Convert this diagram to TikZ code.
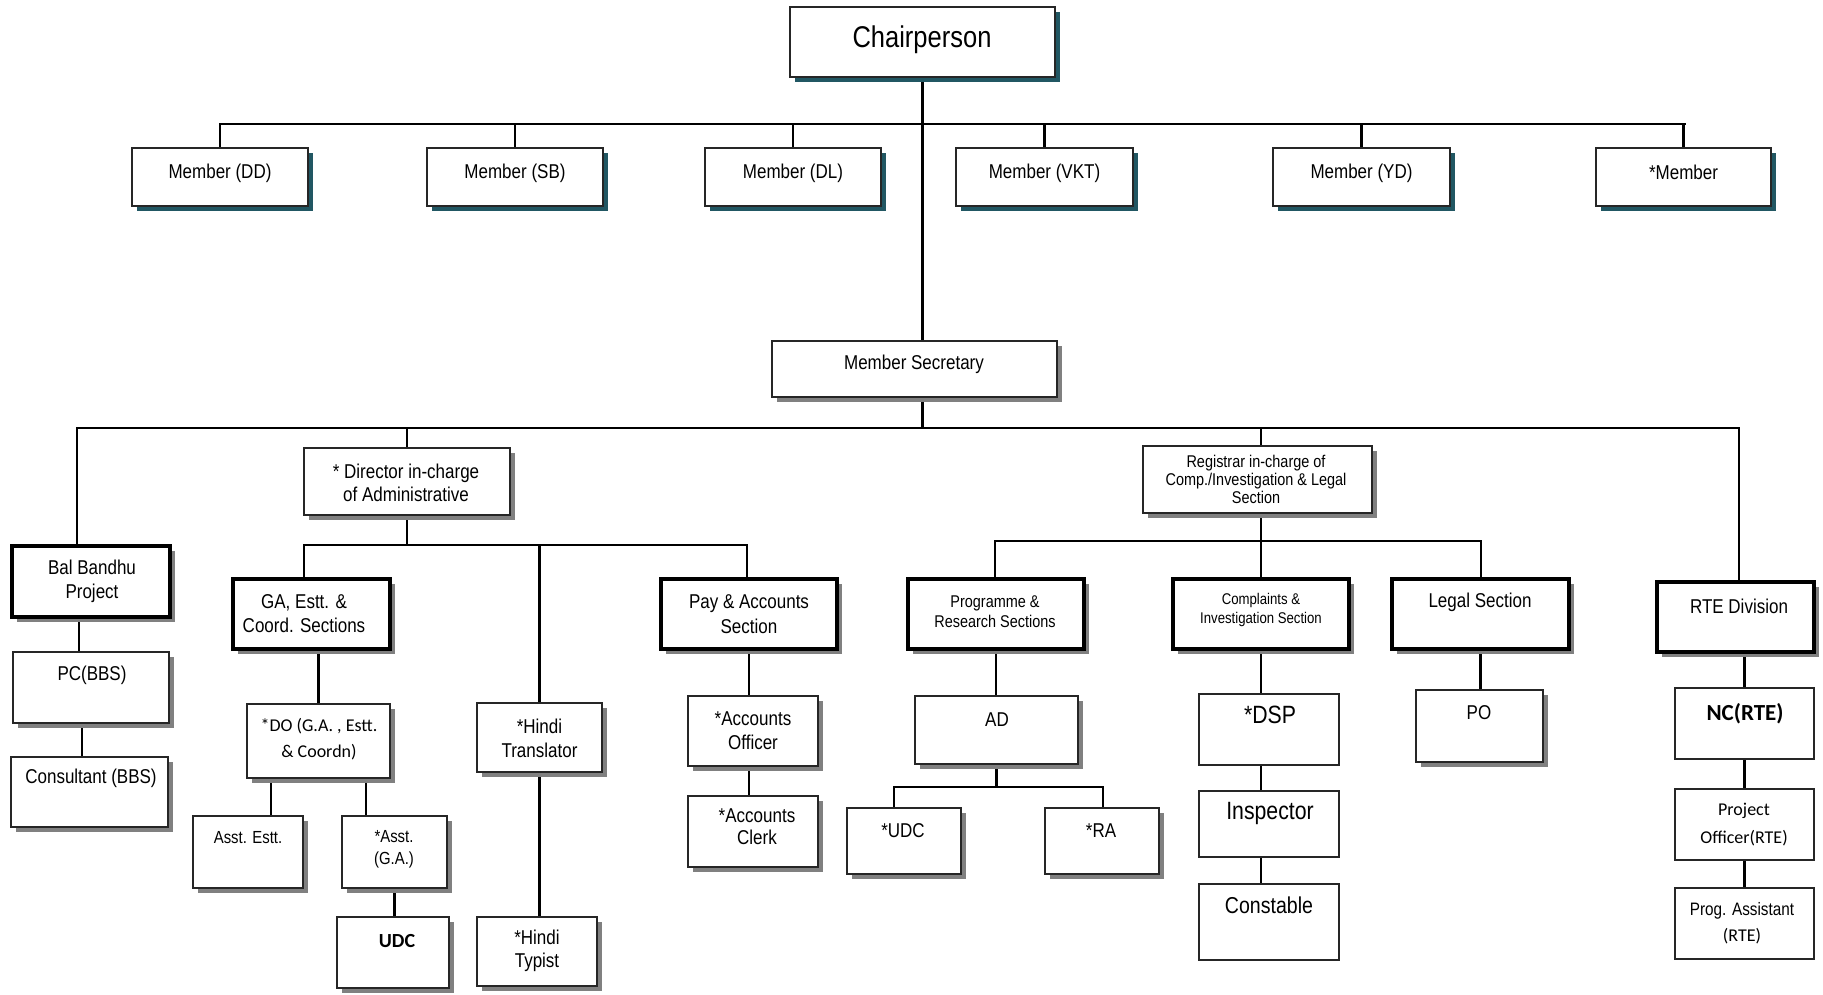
\documentclass[tikz,border=0pt]{standalone}
\usepackage{fontspec}
\setmainfont{Liberation Sans}[FakeStretch=0.85]
\newfontfamily\calfont{Carlito}
\usetikzlibrary{shadows}
\pgfdeclarelayer{bg}
\pgfsetlayers{bg,main}
\newcommand\ftsz[2]{\fontsize{#1}{#2}\selectfont}
\definecolor{tealshadow}{RGB}{33,87,99}
\tikzset{
    box/.style={rectangle, draw=black!85, line width=1.2pt, fill=white, inner sep=0pt},
    thickbox/.style={box, draw=black, line width=3.2pt},
    gshadow/.style={drop shadow={shadow xshift=5pt, shadow yshift=-5pt, fill=gray, opacity=1}},
    tshadow/.style={drop shadow={shadow xshift=5pt, shadow yshift=-5pt, fill=tealshadow, opacity=1}},
    txt/.style={align=center, inner sep=0pt},
    link/.style={line width=2.8pt, line cap=rect}
}

\begin{document}
\begin{tikzpicture}[x=1pt, y=-1pt]
        \useasboundingbox (0,0) rectangle (1823,994);
        % top level
        \node (chair) [box, tshadow, minimum width=265, minimum height=70] at (922.5,42) {};
        \node (chair-t) [txt, font=\ftsz{30}{36}] at (922,40) {Chairperson};
        \node (dd) [box, tshadow, minimum width=176, minimum height=58] at (220,177) {};
        \node (sb) [box, tshadow, minimum width=176, minimum height=58] at (515,177) {};
        \node (dl) [box, tshadow, minimum width=176, minimum height=58] at (793,177) {};
        \node (vkt) [box, tshadow, minimum width=177, minimum height=58] at (1044.5,177) {};
        \node (yd) [box, tshadow, minimum width=177, minimum height=58] at (1361.5,177) {};
        \node (mem) [box, tshadow, minimum width=175, minimum height=58] at (1683.5,177) {};
        \node (dd-t) [txt, font=\ftsz{20}{24}] at (220,173) {Member (DD)};
        \node (sb-t) [txt, font=\ftsz{20}{24}] at (515,173) {Member (SB)};
        \node (dl-t) [txt, font=\ftsz{20}{24}] at (793,173) {Member (DL)};
        \node (vkt-t) [txt, font=\ftsz{20}{24}] at (1044.5,173) {Member (VKT)};
        \node (yd-t) [txt, font=\ftsz{20}{24}] at (1361.5,173) {Member (YD)};
        \node (mem-t) [txt, font=\ftsz{20}{24}] at (1683.5,172) {*Member};
        \node (msec) [box, gshadow, minimum width=285, minimum height=56] at (914.5,369) {};
        \node (msec-t) [txt, font=\ftsz{20}{24}] at (914,364) {Member Secretary};
        % second level
        \node (dir) [box, gshadow, minimum width=206, minimum height=67] at (407,481.5) {};
        \node (dir-t) [txt, font=\ftsz{20}{23}] at (406,483) {* Director in-charge\\of Administrative};
        \node (reg) [box, gshadow, minimum width=229, minimum height=67] at (1257.5,479.5) {};
        \node (reg-t) [txt, font=\ftsz{17}{18}] at (1256,479) {Registrar in-charge of\\Comp./Investigation \& Legal\\Section};
        % Bal Bandhu
        \node (bbp) [thickbox, gshadow, minimum width=158, minimum height=71] at (91,581.5) {};
        \node (bbp-t) [txt, font=\ftsz{20}{24}] at (92,581) {Bal Bandhu\\Project};
        \node (pc) [box, gshadow, minimum width=156, minimum height=71] at (91,687.5) {};
        \node (pc-t) [txt, font=\ftsz{20}{24}] at (92,675) {PC(BBS)};
        \node (cons) [box, gshadow, minimum width=157, minimum height=70] at (89.5,792) {};
        \node (cons-t) [txt, font=\ftsz{20}{24}] at (91,778) {Consultant (BBS)};
        % administration
        \node (ga) [thickbox, gshadow, minimum width=157, minimum height=70] at (311.5,614) {};
        \node (ga-t) [txt, font=\ftsz{20}{24}] at (304,614) {GA, Estt. \&\\Coord. Sections};
        \node (do) [box, gshadow, minimum width=143, minimum height=74] at (318.5,741) {};
        \node (do-t) [txt, font=\calfont\ftsz{18}{26}] at (319,739) {*DO (G.A. , Estt.\\\& Coordn)};
        \node (ae) [box, gshadow, minimum width=110, minimum height=72] at (248,852) {};
        \node (ae-t) [txt, font=\ftsz{17.5}{22}] at (248,838) {Asst. Estt.};
        \node (aga) [box, gshadow, minimum width=105, minimum height=72] at (394.5,852) {};
        \node (aga-t) [txt, font=\ftsz{17.5}{22}] at (394,849) {*Asst.\\(G.A.)};
        \node (udc) [box, gshadow, minimum width=112, minimum height=71] at (393,952.5) {};
        \node (udc-t) [txt, font=\calfont\bfseries\ftsz{20}{24}] at (397,941) {UDC};
        \node (ht) [box, gshadow, minimum width=125, minimum height=69] at (539.5,737.5) {};
        \node (ht-t) [txt, font=\ftsz{20}{24}] at (539.5,738) {*Hindi\\Translator};
        \node (hty) [box, gshadow, minimum width=120, minimum height=69] at (537,951.5) {};
        \node (hty-t) [txt, font=\ftsz{20}{23}] at (537,951) {*Hindi\\Typist};
        \node (pay) [thickbox, gshadow, minimum width=176, minimum height=70] at (749,614) {};
        \node (pay-t) [txt, font=\ftsz{20}{25}] at (749,614.5) {Pay \& Accounts\\Section};
        \node (ao) [box, gshadow, minimum width=130, minimum height=70] at (753,731) {};
        \node (ao-t) [txt, font=\ftsz{20}{24}] at (753,731) {*Accounts\\Officer};
        \node (ac) [box, gshadow, minimum width=130, minimum height=71] at (753,831.5) {};
        \node (ac-t) [txt, font=\ftsz{20}{22}] at (757,827) {*Accounts\\Clerk};
        % registrar side
        \node (prog) [thickbox, gshadow, minimum width=176, minimum height=70] at (996,614) {};
        \node (prog-t) [txt, font=\ftsz{17}{20}] at (995,612) {Programme \&\\Research Sections};
        \node (ad) [box, gshadow, minimum width=163, minimum height=68] at (996.5,730) {};
        \node (ad-t) [txt, font=\ftsz{20}{24}] at (997,720) {AD};
        \node (udc2) [box, gshadow, minimum width=114, minimum height=66] at (904,841) {};
        \node (udc2-t) [txt, font=\ftsz{20}{24}] at (903,831) {*UDC};
        \node (ra) [box, gshadow, minimum width=114, minimum height=66] at (1102,841) {};
        \node (ra-t) [txt, font=\ftsz{20}{24}] at (1101,831) {*RA};
        \node (comp) [thickbox, gshadow, minimum width=176, minimum height=70] at (1261,614) {};
        \node (comp-t) [txt, font=\ftsz{15.5}{19}] at (1261,609.5) {Complaints \&\\Investigation Section};
        \node (dsp) [box, minimum width=140, minimum height=71] at (1269,729.5) {};
        \node (dsp-t) [txt, font=\ftsz{25}{30}] at (1270,715) {*DSP};
        \node (insp) [box, minimum width=140, minimum height=66] at (1269,824) {};
        \node (insp-t) [txt, font=\ftsz{25}{30}] at (1270,813) {Inspector};
        \node (const) [box, minimum width=140, minimum height=76] at (1269,922) {};
        \node (const-t) [txt, font=\ftsz{23}{28}] at (1269,905) {Constable};
        \node (legal) [thickbox, gshadow, minimum width=177, minimum height=70] at (1480.5,614) {};
        \node (legal-t) [txt, font=\ftsz{20}{24}] at (1480,602) {Legal Section};
        \node (po) [box, gshadow, minimum width=127, minimum height=72] at (1479.5,726) {};
        \node (po-t) [txt, font=\ftsz{20}{24}] at (1479,713) {PO};
        % RTE
        \node (rte) [thickbox, gshadow, minimum width=157, minimum height=70] at (1735.5,617) {};
        \node (rte-t) [txt, font=\ftsz{20}{24}] at (1739,606) {RTE Division};
        \node (nc) [box, minimum width=139, minimum height=71] at (1744.5,723.5) {};
        \node (nc-t) [txt, font=\calfont\bfseries\ftsz{23}{28}] at (1745,714) {NC(RTE)};
        \node (poff) [box, minimum width=139, minimum height=71] at (1744.5,824.5) {};
        \node (poff-t) [txt, font=\calfont\ftsz{18}{28}] at (1744,825) {Project\\Officer(RTE)};
        \node (pa) [box, minimum width=139, minimum height=71] at (1744.5,923.5) {};
        \node (pa-t) [txt, font=\ftsz{18}{26}] at (1742,923) {Prog. Assistant\\{\calfont (RTE)}};
        % bus lines
        \coordinate (bus1w) at (220,124);
        \coordinate (bus1e) at (1685,124);
        \coordinate (bus2w) at (77,428);
        \coordinate (bus2e) at (1739,428);
        \coordinate (bus3w) at (304,545);
        \coordinate (bus3e) at (747,545);
        \coordinate (bus4w) at (995,541);
        \coordinate (bus4e) at (1481,541);
        \coordinate (bus5w) at (894,787);
        \coordinate (bus5e) at (1103,787);
        \begin{pgfonlayer}{bg}
                \draw[link] (chair.south) -- (chair.south |- msec.north);
                \draw[link] (bus1w) -- (bus1e);
                \draw[link] (dd.north |- bus1w) -- (dd.north);
                \draw[link] (sb.north |- bus1w) -- (sb.north);
                \draw[link] (dl.north |- bus1w) -- (dl.north);
                \draw[link] (vkt.north |- bus1w) -- (vkt.north);
                \draw[link] (yd.north |- bus1w) -- (yd.north);
                \draw[link] (mem.north |- bus1w) -- (mem.north);
                \draw[link] (chair.south |- msec.south) -- (chair.south |- bus2w);
                \draw[link] (bus2w |- bbp.north) -- (bus2w) -- (bus2e) -- (bus2e |- rte.north);
                \draw[link] (dir.north |- bus2w) -- (dir.north);
                \draw[link] (comp.north |- bus2w) -- (comp.north |- reg.north);
                % administration
                \draw[link] (dir.south) -- (dir.south |- bus3w);
                \draw[link] (bus3w |- ga.north) -- (bus3w) -- (bus3e) -- (bus3e |- pay.north);
                \draw[link] (ht.north |- bus3w) -- (ht.north);
                \draw[link] (ht.south) -- (ht.south |- hty.north);
                \draw[link] (do.north |- ga.south) -- (do.north);
                \draw[link] ([xshift=-47.5pt]do.south) -- ([xshift=23pt]ae.north);
                \draw[link] ([xshift=47.5pt]do.south) -- ([xshift=-28.5pt]aga.north);
                \draw[link] (aga.south) -- (aga.south |- udc.north);
                \draw[link] (pay.south) -- (pay.south |- ao.north);
                \draw[link] (pay.south |- ao.south) -- (pay.south |- ac.north);
                % Bal Bandhu
                \draw[link] ([xshift=-12pt]bbp.south) -- ([xshift=-12pt]pc.north);
                \draw[link] ([xshift=-9pt]pc.south) -- ([xshift=-7.5pt]cons.north);
                % registrar side
                \draw[link] (comp.north |- reg.south) -- (comp.north);
                \draw[link] (bus4w |- prog.north) -- (bus4w) -- (bus4e) -- (bus4e |- legal.north);
                \draw[link] (prog.south) -- (prog.south |- ad.north);
                \draw[link] (ad.south) -- (ad.south |- bus5w);
                \draw[link] (bus5w |- udc2.north) -- (bus5w) -- (bus5e) -- (bus5e |- ra.north);
                \draw[link] (comp.south) -- (comp.south |- dsp.north);
                \draw[link] (comp.south |- dsp.south) -- (comp.south |- insp.north);
                \draw[link] (comp.south |- insp.south) -- (comp.south |- const.north);
                \draw[link] (legal.south) -- (legal.south |- po.north);
                % RTE
                \draw[link] (nc.north |- rte.south) -- (nc.north);
                \draw[link] (nc.south) -- (poff.north);
                \draw[link] (poff.south) -- (pa.north);
        \end{pgfonlayer}
\end{tikzpicture}
\end{document}
